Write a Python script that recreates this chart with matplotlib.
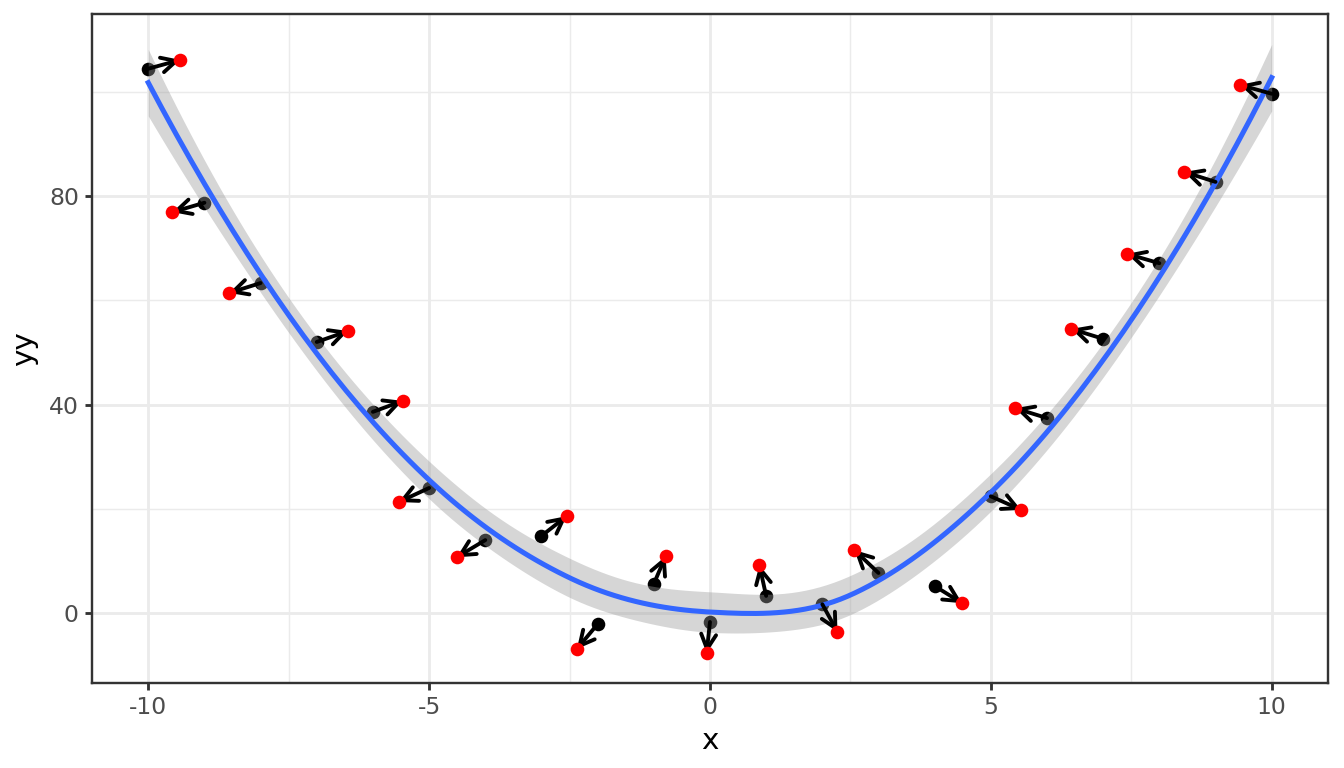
import numpy as np
import matplotlib
matplotlib.use("Agg")
import matplotlib.pyplot as plt

# black points (original) and red points (shifted)
x_orig = [-10, -9, -8, -7, -6, -5, -4, -3, -2, -1, 0, 1, 2, 3, 4, 5, 6, 7, 8, 9, 10]
yy_orig = [104.4, 78.7, 63.3, 52.0, 38.6, 24.0, 14.0, 14.8, -2.1, 5.6, -1.7,
           3.3, 1.7, 7.7, 5.2, 22.4, 37.4, 52.6, 67.1, 82.7, 99.6]
x_new = [-9.43, -9.57, -8.56, -6.44, -5.47, -5.54, -4.51, -2.55, -2.37, -0.79, -0.06,
         0.88, 2.27, 2.57, 4.49, 5.54, 5.43, 6.43, 7.42, 8.44, 9.43]
yy_new = [106.1, 76.9, 61.4, 54.1, 40.7, 21.3, 10.7, 18.6, -6.9, 10.9, -7.7,
          9.2, -3.6, 12.1, 1.9, 19.8, 39.3, 54.5, 68.9, 84.6, 101.3]

x_ticks = [-10, -5, 0, 5, 10]
y_ticks = [0, 40, 80]


def local_rows(x, x0, span=0.75):
    # local quadratic loess operator: value row and slope row at x0
    n = len(x)
    q = int(np.floor(n * span))
    d = np.abs(x - x0)
    h = np.sort(d)[q - 1]
    w = np.clip(1 - (d / h) ** 3, 0, None) ** 3
    X = np.column_stack([np.ones(n), x - x0, (x - x0) ** 2])
    A = np.linalg.solve(X.T @ (w[:, None] * X), X.T * w)
    return A[0], A[1]


def interp_rows(x, verts, pts):
    # cubic hermite between vertices, like loess surface = "interpolate"
    vals = [local_rows(x, v) for v in verts]
    out = []
    for p in pts:
        k = min(np.searchsorted(verts, p, side="right") - 1, len(verts) - 2)
        a, b = verts[k], verts[k + 1]
        hh = b - a
        t = (p - a) / hh
        h00 = 2 * t**3 - 3 * t**2 + 1
        h10 = t**3 - 2 * t**2 + t
        h01 = -2 * t**3 + 3 * t**2
        h11 = t**3 - t**2
        out.append(h00 * vals[k][0] + h10 * hh * vals[k][1]
                   + h01 * vals[k + 1][0] + h11 * hh * vals[k + 1][1])
    return np.array(out)


def loess_fit(x, y, grid):
    x = np.asarray(x, float)
    y = np.asarray(y, float)
    verts = np.linspace(x.min(), x.max(), 9)
    L = interp_rows(x, verts, x)
    res = y - L @ y
    I_L = np.eye(len(x)) - L
    one_delta = np.trace(I_L.T @ I_L)
    sigma = np.sqrt(np.sum(res ** 2) / one_delta)
    rows = interp_rows(x, verts, grid)
    fit = rows @ y
    se = sigma * np.sqrt(np.sum(rows ** 2, axis=1))
    t = 2.12
    return fit, fit - t * se, fit + t * se


grid = np.linspace(min(x_orig), max(x_orig), 160)
fit, lo, hi = loess_fit(x_orig, yy_orig, grid)

fig = plt.figure(figsize=(7, 4), dpi=192)
ax = fig.add_axes([0.0685, 0.1107, 0.9195, 0.8711])

ax.scatter(x_orig, yy_orig, s=26, color="black", zorder=2, linewidths=0)
ax.fill_between(grid, lo, hi, color="#999999", alpha=0.4, linewidth=0, zorder=3)
ax.plot(grid, fit, color="#3366FF", linewidth=1.9, zorder=4)
for x0, y0, x1, y1 in zip(x_orig, yy_orig, x_new, yy_new):
    ax.annotate("", xy=(x1, y1), xytext=(x0, y0),
                arrowprops=dict(arrowstyle="->,head_length=0.55,head_width=0.28",
                                color="black", lw=1.45, shrinkA=0, shrinkB=0),
                zorder=5)
ax.scatter(x_new, yy_new, s=26, color="red", zorder=6, linewidths=0)

ax.set_xlim(-11, 11)
ax.set_ylim(-13.4, 114.9)
ax.set_xticks(x_ticks)
ax.set_yticks(y_ticks)
ax.set_xticklabels([str(v) for v in x_ticks])
ax.set_xticks([-7.5, -2.5, 2.5, 7.5], minor=True)
ax.set_yticks([20, 60, 100], minor=True)
ax.grid(which="major", color="#EBEBEB", linewidth=1.07, zorder=0)
ax.grid(which="minor", color="#EBEBEB", linewidth=0.53, zorder=0)
ax.set_axisbelow(True)
ax.tick_params(which="major", length=2.75, width=1.07, color="#333333",
               labelsize=8.8, labelcolor="#4D4D4D", pad=2.2)
ax.tick_params(which="minor", length=0)
for s in ax.spines.values():
    s.set_color("#333333")
    s.set_linewidth(0.9)
ax.set_xlabel("x", fontsize=11, labelpad=3)
ax.set_ylabel("yy", fontsize=11, labelpad=4)

fig.savefig("out.png", dpi=192)
